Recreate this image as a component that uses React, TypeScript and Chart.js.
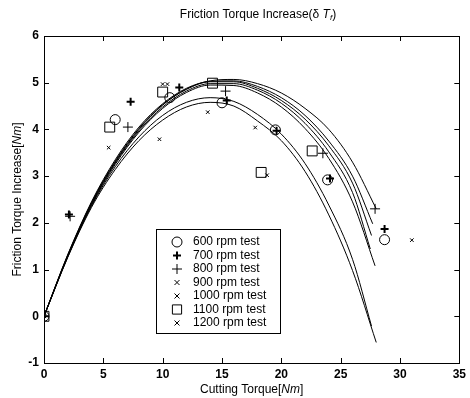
import React, { useEffect, useRef } from "react";
import { Chart, registerables } from "chart.js";

Chart.register(...registerables);

// ---- data ----
const seriesLabels = [
  "600 rpm test",
  "700 rpm test",
  "800 rpm test",
  "900 rpm test",
  "1000 rpm test",
  "1100 rpm test",
  "1200 rpm test",
];

const rpm600X = [0, 6.0, 10.6, 15.0, 19.5, 23.9, 28.7];
const rpm600Y = [0, 4.21, 4.68, 4.57, 3.99, 2.92, 1.64];

const rpm700X = [0, 2.1, 7.3, 11.4, 15.4, 19.6, 24.1, 28.7];
const rpm700Y = [0, 2.18, 4.59, 4.9, 4.62, 3.97, 2.95, 1.87];

const rpm800X = [0, 2.2, 7.07, 15.3, 23.5, 27.9];
const rpm800Y = [0, 2.14, 4.05, 4.82, 3.49, 2.3];

const rpm900X = [0, 5.45, 9.73, 13.8, 17.8, 18.8, 31.0];
const rpm900Y = [0, 3.61, 3.79, 4.37, 4.04, 3.02, 1.63];

const rpm1000X = [0, 10.0];
const rpm1000Y = [0, 4.97];

const rpm1100X = [0, 5.54, 10.0, 14.2, 18.3, 22.6];
const rpm1100Y = [0, 4.05, 4.8, 4.99, 3.08, 3.54];

const rpm1200X = [0, 10.4];
const rpm1200Y = [0, 4.97];

// fitted curves
const fitX = [0, 2, 4, 6, 8, 10, 12, 14, 16, 18, 20, 22, 24, 26];
const fitEndX = [28.0, 27.7, 27.6, 27.5, 27.9, 27.6, 28.0];
const fitU1 = [0, 1.32, 2.45, 3.35, 4.05, 4.55, 4.88, 5.04, 5.07, 4.98, 4.78, 4.45, 4.0, 3.3, 2.3];
const fitU2 = [0, 1.3, 2.42, 3.3, 4.0, 4.52, 4.86, 5.03, 5.04, 4.92, 4.68, 4.3, 3.75, 3.0, 1.98];
const fitU3 = [0, 1.31, 2.43, 3.32, 4.02, 4.53, 4.86, 5.02, 5.02, 4.88, 4.62, 4.22, 3.65, 2.85, 1.73];
const fitU4 = [0, 1.29, 2.4, 3.28, 3.97, 4.48, 4.82, 4.98, 4.98, 4.84, 4.56, 4.13, 3.52, 2.65, 1.44];
const fitU5 = [0, 1.28, 2.38, 3.25, 3.94, 4.45, 4.79, 4.95, 4.94, 4.78, 4.48, 4.02, 3.38, 2.45, 1.08];
const fitC2 = [0, 1.27, 2.36, 3.2, 3.84, 4.3, 4.58, 4.68, 4.6, 4.32, 3.9, 3.27, 2.38, 1.22, -0.21];
const fitC1 = [0, 1.26, 2.33, 3.14, 3.76, 4.2, 4.48, 4.58, 4.5, 4.18, 3.76, 3.1, 2.17, 0.98, -0.56];

const xTicks = [0, 5, 10, 15, 20, 25, 30, 35];
const yTicks = [-1, 0, 1, 2, 3, 4, 5, 6];

// ---- styles ----
const FONT = "'Liberation Sans', Arial, sans-serif";
const markerStyles = [
  { style: "circle", radius: 5, width: 1 },
  { style: "cross", radius: 4, width: 2 },
  { style: "cross", radius: 5, width: 1 },
  { style: "crossRot", radius: 2.5, width: 1 },
  { style: "crossRot", radius: 2.5, width: 1 },
  { style: "rect", radius: 7, width: 1 },
  { style: "crossRot", radius: 2.5, width: 1 },
];

function drawMarker(ctx: CanvasRenderingContext2D, style: string, x: number, y: number, r: number, w: number) {
  ctx.save();
  ctx.strokeStyle = "#000";
  ctx.lineWidth = w;
  ctx.beginPath();
  if (style === "circle") {
    ctx.arc(x, y, r, 0, Math.PI * 2);
  } else if (style === "rect") {
    const s = Math.SQRT1_2 * r;
    ctx.rect(x - s, y - s, 2 * s, 2 * s);
  } else if (style === "cross") {
    ctx.moveTo(x - r, y);
    ctx.lineTo(x + r, y);
    ctx.moveTo(x, y - r);
    ctx.lineTo(x, y + r);
  } else {
    ctx.moveTo(x - r, y - r);
    ctx.lineTo(x + r, y + r);
    ctx.moveTo(x - r, y + r);
    ctx.lineTo(x + r, y - r);
  }
  ctx.stroke();
  ctx.restore();
}

type Seg = { t: string; f: string; dy?: number };
function drawRich(ctx: CanvasRenderingContext2D, segs: Seg[], cx: number, cy: number) {
  let total = 0;
  for (const s of segs) {
    ctx.font = s.f;
    total += ctx.measureText(s.t).width;
  }
  let x = cx - total / 2;
  ctx.textBaseline = "middle";
  ctx.textAlign = "left";
  for (const s of segs) {
    ctx.font = s.f;
    ctx.fillText(s.t, x, cy + (s.dy || 0));
    x += ctx.measureText(s.t).width;
  }
}

const decorPlugin = {
  id: "decor",
  afterDraw(chart: any) {
    const ctx: CanvasRenderingContext2D = chart.ctx;
    const { left, right, top, bottom } = chart.chartArea;
    const xs = chart.scales.x;
    const ys = chart.scales.y;
    ctx.save();
    ctx.fillStyle = "#000";
    ctx.strokeStyle = "#000";
    ctx.lineWidth = 1;
    // box
    ctx.strokeRect(Math.round(left) + 0.5, Math.round(top) + 0.5, Math.round(right - left), Math.round(bottom - top));
    // inward ticks
    const tl = 5;
    ctx.beginPath();
    for (const v of xTicks) {
      const px = Math.round(xs.getPixelForValue(v)) + 0.5;
      ctx.moveTo(px, bottom);
      ctx.lineTo(px, bottom - tl);
      ctx.moveTo(px, top);
      ctx.lineTo(px, top + tl);
    }
    for (const v of yTicks) {
      const py = Math.round(ys.getPixelForValue(v)) + 0.5;
      ctx.moveTo(left, py);
      ctx.lineTo(left + tl, py);
      ctx.moveTo(right, py);
      ctx.lineTo(right - tl, py);
    }
    ctx.stroke();

    // title
    drawRich(
      ctx,
      [
        { t: "Friction Torque Increase(δ ", f: `12px ${FONT}` },
        { t: "T", f: `italic 12px ${FONT}` },
        { t: "f", f: `italic 8px ${FONT}`, dy: 3 },
        { t: ")", f: `12px ${FONT}` },
      ],
      258,
      15
    );
    // x title
    drawRich(
      ctx,
      [
        { t: "Cutting Torque[", f: `12px ${FONT}` },
        { t: "Nm", f: `italic 12px ${FONT}` },
        { t: "]", f: `12px ${FONT}` },
      ],
      (left + right) / 2,
      390
    );
    // y title
    ctx.save();
    ctx.translate(18, (top + bottom) / 2);
    ctx.rotate(-Math.PI / 2);
    drawRich(
      ctx,
      [
        { t: "Friction Torque Increase[", f: `12px ${FONT}` },
        { t: "Nm", f: `italic 12px ${FONT}` },
        { t: "]", f: `12px ${FONT}` },
      ],
      0,
      0
    );
    ctx.restore();

    // legend
    const bx = 156, by = 229, bw = 124, bh = 104;
    ctx.fillStyle = "#fff";
    ctx.fillRect(bx, by, bw, bh);
    ctx.strokeStyle = "#000";
    ctx.strokeRect(bx + 0.5, by + 0.5, bw, bh);
    ctx.fillStyle = "#000";
    ctx.font = `12px ${FONT}`;
    ctx.textBaseline = "middle";
    ctx.textAlign = "left";
    seriesLabels.forEach((lab, i) => {
      const ry = 242 + 13.5 * i;
      const m = markerStyles[i];
      drawMarker(ctx, m.style, 177, ry, m.style === "rect" ? 6.5 : m.radius, m.width);
      ctx.fillText(lab, 193, ry);
    });
    ctx.restore();
  },
};

function pts(xs: number[], ys: number[]) {
  return xs.map((x, i) => ({ x, y: ys[i] }));
}

export default function App() {
  const ref = useRef<HTMLCanvasElement | null>(null);
  useEffect(() => {
    document.body.style.margin = "0";
    const canvas = ref.current;
    if (!canvas) return;

    const testX = [rpm600X, rpm700X, rpm800X, rpm900X, rpm1000X, rpm1100X, rpm1200X];
    const testY = [rpm600Y, rpm700Y, rpm800Y, rpm900Y, rpm1000Y, rpm1100Y, rpm1200Y];
    const fits = [fitU1, fitU2, fitU3, fitU4, fitU5, fitC2, fitC1];

    const scatterSets = seriesLabels.map((lab, i) => ({
      type: "scatter" as const,
      label: lab,
      data: pts(testX[i], testY[i]),
      showLine: false,
      pointStyle: markerStyles[i].style,
      pointRadius: markerStyles[i].radius,
      pointBorderWidth: markerStyles[i].width,
      pointBorderColor: "#000",
      pointBackgroundColor: "rgba(0,0,0,0)",
    }));

    const fitSets = fits.map((f, i) => ({
      type: "line" as const,
      label: "fit " + i,
      data: [...fitX, fitEndX[i]].map((x, j) => ({ x, y: f[j] })),
      borderColor: "#000",
      borderWidth: 1,
      pointRadius: 0,
      fill: false,
      cubicInterpolationMode: "monotone" as const,
    }));

    const chart = new Chart(canvas, {
      type: "scatter",
      data: { datasets: [...scatterSets, ...fitSets] as any },
      options: {
        responsive: false,
        animation: false,
        devicePixelRatio: 1,
        layout: { padding: { top: 36, right: 9, left: 0, bottom: 0 } },
        plugins: {
          legend: { display: false },
          title: { display: false },
          tooltip: { enabled: false },
        },
        scales: {
          x: {
            type: "linear",
            min: 0,
            max: 35,
            afterBuildTicks: (s: any) => {
              s.ticks = xTicks.map((v) => ({ value: v }));
            },
            afterFit: (s: any) => {
              s.height = 35;
            },
            ticks: { padding: 4, color: "#000", font: { family: FONT, size: 12, weight: "bold" } },
            grid: { display: false, drawTicks: false },
            border: { display: false },
          },
          y: {
            type: "linear",
            min: -1,
            max: 6,
            afterBuildTicks: (s: any) => {
              s.ticks = yTicks.map((v) => ({ value: v }));
            },
            afterFit: (s: any) => {
              s.width = 44;
            },
            ticks: { padding: 5, color: "#000", font: { family: FONT, size: 12, weight: "bold" } },
            grid: { display: false, drawTicks: false },
            border: { display: false },
          },
        },
      },
      plugins: [decorPlugin],
    });
    return () => chart.destroy();
  }, []);

  return <canvas ref={ref} width={470} height={398} style={{ display: "block" }} />;
}
